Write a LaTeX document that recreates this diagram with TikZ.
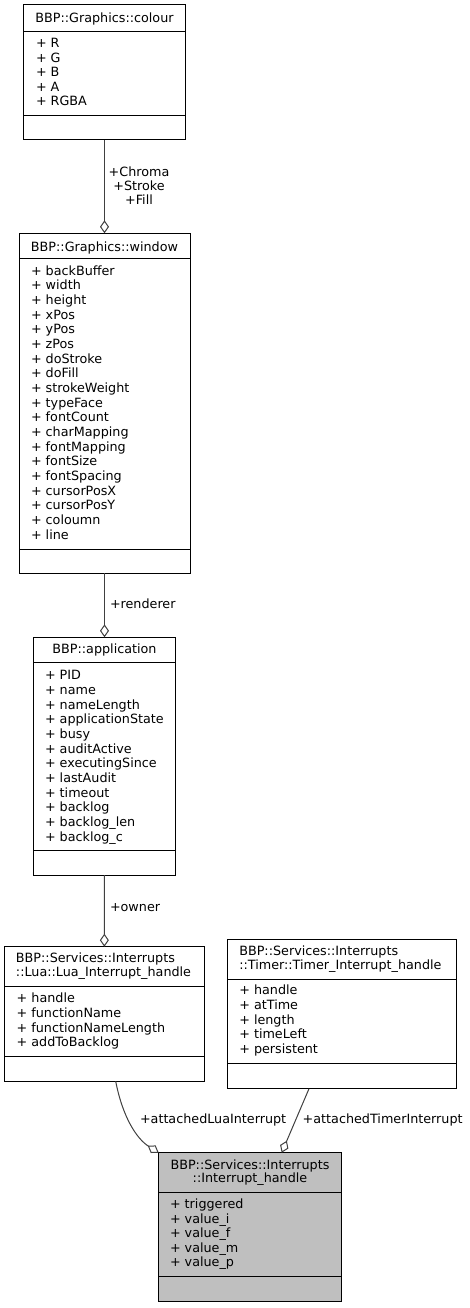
\documentclass[tikz,border=0pt]{standalone}
\usepackage{fontspec}
\setmainfont{DejaVu Sans}
\usetikzlibrary{arrows.meta,calc}
\tikzset{
  txt/.style={inner sep=0pt, outer sep=0pt, font=\fontsize{12.75}{14}\selectfont},
  umlrect/.style={draw=black, line width=1pt, inner sep=0pt, outer sep=0pt},
  boxline/.style={draw=black, line width=1pt},
  assoc/.style={draw=black!75, line width=1pt, -{Diamond[open,length=13pt,width=9pt]}},
}
\newcommand\umlbox[8]{%
  \node[umlrect, fill=#8, minimum width={#4-#2}, minimum height={#5-#3}, anchor=north west] (#1) at (#2,#3) {};
  \draw[boxline] ($(#1.north west)+(0,{#6-#3})$) -- ($(#1.north east)+(0,{#6-#3})$);
  \draw[boxline] ($(#1.north west)+(0,{#7-#3})$) -- ($(#1.north east)+(0,{#7-#3})$);
}
\newcommand\members[5]{%
  \foreach \t [count=\i] in {#5} {\node[txt, anchor=base west] (#1-\i) at (#2, {#3+(\i-1)*#4}) {\t};}%
}
\begin{document}
\begin{tikzpicture}[x=1pt,y=-1pt]
\useasboundingbox (0,0) rectangle (470,1308);
% boxes
\umlbox{colour}{23.5}{5}{185.5}{140}{31.5}{116}{white}
\umlbox{window}{19}{233.3}{190}{573.3}{258.3}{549}{white}
\umlbox{app}{33.3}{637.3}{175.7}{875}{662.5}{850}{white}
\umlbox{lua}{4.7}{946.7}{204}{1081.3}{986.7}{1056}{white}
\umlbox{timer}{227.7}{939.3}{456}{1088.7}{979.3}{1063.3}{white}
\umlbox{irq}{158.7}{1152.7}{341.3}{1301.7}{1192.7}{1276.7}{black!25}
% headers
\node[txt, anchor=base] (colour-h) at (104.5,22.9) {BBP::Graphics::colour};
\node[txt, anchor=base] (window-h) at (104.5,251.3) {BBP::Graphics::window};
\node[txt, anchor=base] (app-h) at (104.5,653.6) {BBP::application};
\node[txt, anchor=base west] (lua-h1) at (16,962.9) {BBP::Services::Interrupts};
\node[txt, anchor=base west] (lua-h2) at (16,976.9) {::Lua::Lua\_Interrupt\_handle};
\node[txt, anchor=base west] (timer-h1) at (239.3,955.3) {BBP::Services::Interrupts};
\node[txt, anchor=base west] (timer-h2) at (239.3,969.6) {::Timer::Timer\_Interrupt\_handle};
\node[txt, anchor=base] (irq-h1) at (250,1169.6) {BBP::Services::Interrupts};
\node[txt, anchor=base] (irq-h2) at (250,1182.9) {::Interrupt\_handle};
% members
\members{colour-m}{36}{47.9}{14.4}{+ R,+ G,+ B,+ A,+ RGBA}
\members{window-m}{31}{275.3}{14.66}{+ backBuffer,+ width,+ height,+ xPos,+ yPos,+ zPos,+ doStroke,+ doFill,+ strokeWeight,+ typeFace,+ fontCount,+ charMapping,+ fontMapping,+ fontSize,+ fontSpacing,+ cursorPosX,+ cursorPosY,+ coloumn,+ line}
\members{app-m}{45}{679.6}{14.7}{+ PID,+ name,+ nameLength,+ applicationState,+ busy,+ auditActive,+ executingSince,+ lastAudit,+ timeout,+ backlog,+ backlog\_len,+ backlog\_c}
\members{lua-m}{16.7}{1002.9}{14.67}{+ handle,+ functionName,+ functionNameLength,+ addToBacklog}
\members{timer-m}{239.3}{994.6}{14.75}{+ handle,+ atTime,+ length,+ timeLeft,+ persistent}
\members{irq-m}{170}{1208.9}{14.5}{+ triggered,+ value\_i,+ value\_f,+ value\_m,+ value\_p}
% connectors
\draw[assoc] (colour.south) -- (window.north);
\draw[assoc] (window.south) -- (app.north);
\draw[assoc] (app.south) -- (lua.north);
\draw[assoc] ($(lua.south west)+(111,0)$) .. controls ($(lua.south west)+(118,36)$) and ($(irq.north west)+(-22,-14)$) .. (irq.north west);
\draw[assoc] ($(timer.south west)+(81.3,0)$) -- ($(irq.north west)+(123,0)$);
% labels
\node[txt, align=center, anchor=base] (lbl-colour) at (139,204.6) {+Chroma\\+Stroke\\+Fill};
\node[txt, anchor=base west] (lbl-renderer) at (110,608.9) {+renderer};
\node[txt, anchor=base west] (lbl-owner) at (110,911.3) {+owner};
\node[txt, anchor=base west] (lbl-lua) at (140,1123.9) {+attachedLuaInterrupt};
\node[txt, anchor=base west] (lbl-timer) at (302.7,1123.9) {+attachedTimerInterrupt};
\end{tikzpicture}
\end{document}
